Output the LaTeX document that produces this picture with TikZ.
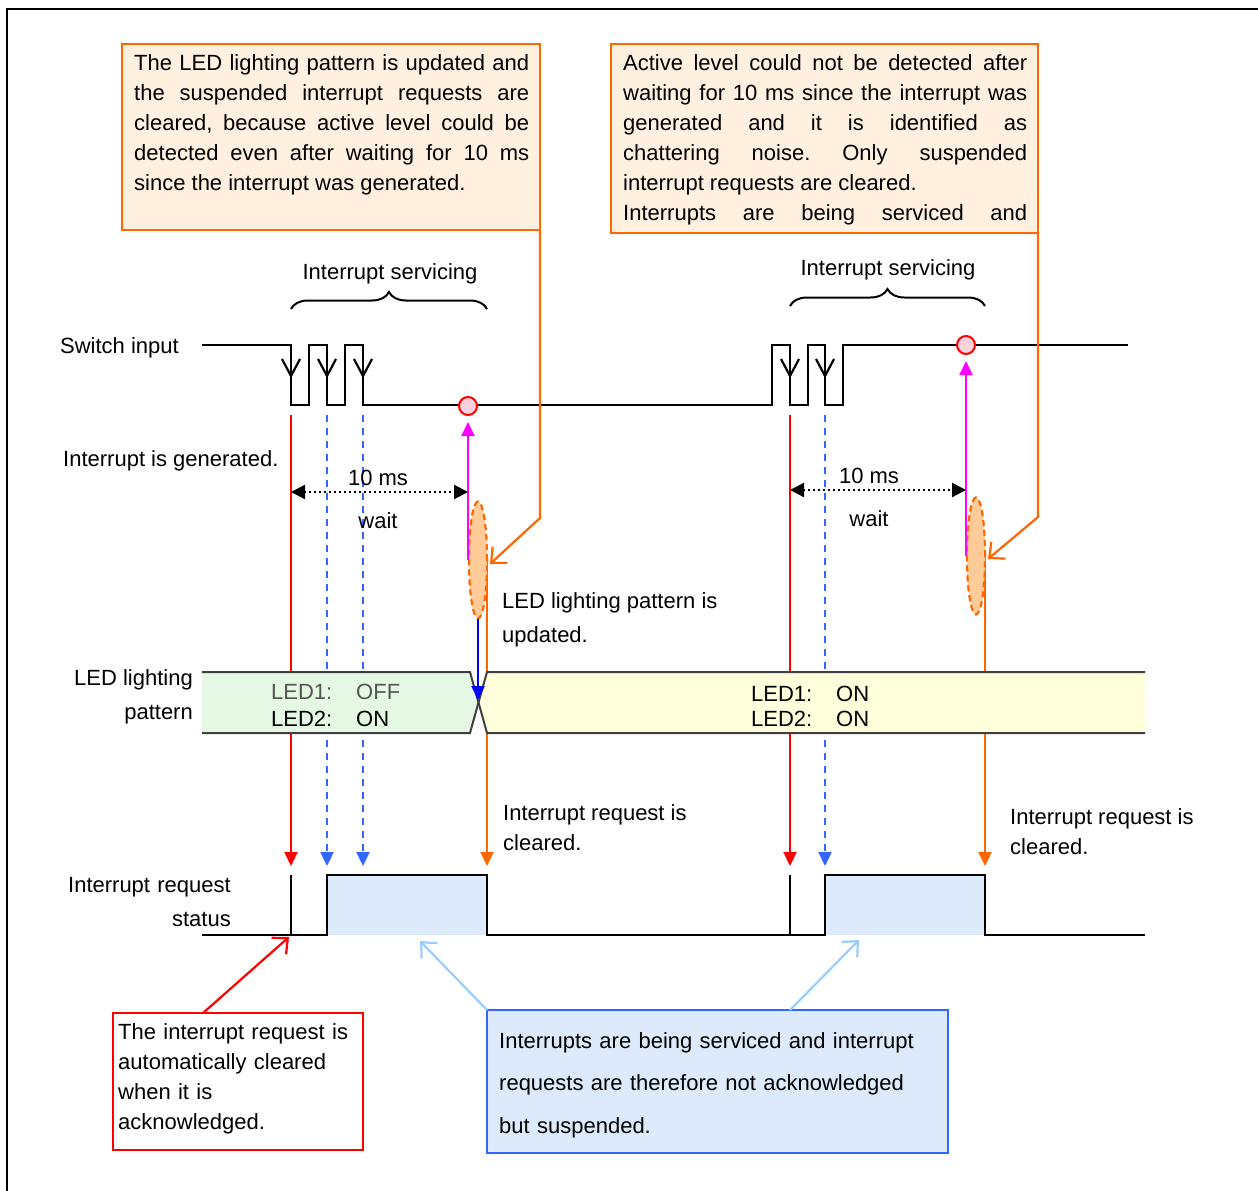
\documentclass[tikz,border=0pt]{standalone}
\usepackage{fontspec}
\setmainfont{Liberation Sans}
\usetikzlibrary{arrows.meta,shapes.geometric,decorations.pathreplacing}

\definecolor{corange}{HTML}{FF6600}
\definecolor{cofill}{HTML}{FFF0E0}
\definecolor{ellfill}{HTML}{FFCC99}
\definecolor{cred}{HTML}{FF0000}
\definecolor{cblue}{HTML}{3366FF}
\definecolor{cdblue}{HTML}{0000FF}
\definecolor{cmag}{HTML}{FF00FF}
\definecolor{ledgreen}{HTML}{E4F8E4}
\definecolor{ledyellow}{HTML}{FFFFDC}
\definecolor{reqfill}{HTML}{DDEAFB}
\definecolor{lblue}{HTML}{99CCFF}
\definecolor{circfill}{HTML}{F9D2DE}
\definecolor{bandline}{HTML}{404040}
\definecolor{dimgray}{HTML}{555555}

\tikzset{
  wave/.style={line width=2.2pt, line join=miter},
  sig/.style={line width=2.2pt, -{Triangle[length=14pt,width=13pt]}},
  leader/.style={line width=2.2pt, -{Straight Barb[length=12pt,width=22pt]}},
  callout/.style={draw=corange, line width=2pt, fill=cofill, inner sep=0pt, outer sep=0pt, anchor=north west},
  txt/.style={inner sep=0pt, anchor=base west},
  para/.style={inner sep=0pt, anchor=base west, align=justify},
  chev/.style={line width=2.2pt},
  dimline/.style={line width=2.2pt, dash pattern=on 2pt off 3pt,
    {Triangle[length=14pt,width=14pt]}-{Triangle[length=14pt,width=14pt]}},
  markring/.style={circle, draw=cred, line width=2pt, fill=circfill, minimum size=18pt, inner sep=0pt},
  blob/.style={ellipse, draw=corange, dash pattern=on 6pt off 4pt, line width=2pt, fill=ellfill,
    minimum width=18pt, minimum height=117pt, inner sep=0pt, outer sep=0pt},
  curly/.style={line width=2pt, decorate, decoration={brace, amplitude=17pt}},
}

\begin{document}
\begin{tikzpicture}[x=1pt, y=-1pt, font=\fontsize{22}{30}\selectfont\frenchspacing]
\useasboundingbox (0,0) rectangle (1258,1191);

% outer frame
\draw[line width=2.5pt] (7,1200) -- (7,9) -- (1270,9);

% ---------- upper annotation boxes ----------
\node[callout, minimum width=418pt, minimum height=186pt] (noteA) at (122,44) {};
\node[para, text width=395pt] at (134,70)
  {The LED lighting pattern is updated and\linebreak
   the suspended interrupt requests are\linebreak
   cleared, because active level could be\linebreak
   detected even after waiting for 10 ms\linebreak
   since the interrupt was generated.};

\node[callout, minimum width=427pt, minimum height=189pt] (noteB) at (611,44) {};
\node[para, text width=404pt] at (623,70)
  {Active level could not be detected after\linebreak
   waiting for 10 ms since the interrupt was\linebreak
   generated and it is identified as\linebreak
   chattering noise. Only suspended\linebreak
   interrupt requests are cleared.\\
   \makebox[\linewidth][s]{Interrupts are being serviced and}};

% ---------- servicing braces ----------
\node[inner sep=0pt, anchor=base] at (390,279) {Interrupt servicing};
\draw[curly] (291,309) -- (487,309);
\node[inner sep=0pt, anchor=base] at (888,275) {Interrupt servicing};
\draw[curly] (790,306) -- (985,306);

% ---------- switch input ----------
\node[inner sep=0pt, anchor=base east] at (179,353) {Switch input};
\draw[wave] (202,345) -- (291,345) -- (291,405) -- (309,405) -- (309,345)
  -- (327,345) -- (327,405) -- (345,405) -- (345,345) -- (363,345) -- (363,405)
  -- (772,405) -- (772,345) -- (790,345) -- (790,405) -- (808,405) -- (808,345)
  -- (825,345) -- (825,405) -- (843,405) -- (843,345) -- (1128,345);
% falling-edge markers
\foreach \ex in {291,327,363,790,825}
  \draw[chev] (\ex-9,359) -- (\ex,376) -- (\ex+9,359);

% switch-level points
\coordinate (sA) at (291,405);
\coordinate (sB) at (327,405);
\coordinate (sC) at (363,405);
\coordinate (sD) at (790,405);
\coordinate (sE) at (825,405);

% request-status points
\coordinate (rA) at (291,875);
\coordinate (rB) at (327,875);
\coordinate (rC) at (363,875);
\coordinate (rD) at (487,875);
\coordinate (rE) at (790,875);
\coordinate (rF) at (825,875);
\coordinate (rG) at (985,875);

\node[txt] at (63,466) {Interrupt is generated.};

% ---------- detection blobs and sampling points ----------
\node[blob] (blobA) at (478,560) {};
\node[blob] (blobB) at (976,556) {};
\node[markring] (ringA) at (468,406) {};
\node[markring] (ringB) at (966,345) {};

% ---------- vertical signal arrows (behind the LED band) ----------
\draw[sig, cred, shorten <=10pt, shorten >=9pt] (sA) -- (rA);
\draw[sig, cblue, dash pattern=on 7pt off 6pt, shorten <=10pt, shorten >=9pt] (sB) -- (rB);
\draw[sig, cblue, dash pattern=on 7pt off 6pt, shorten <=10pt, shorten >=9pt] (sC) -- (rC);
\draw[sig, corange, shorten >=9pt] (blobA.east) -- (rD);
\draw[sig, cred, shorten <=10pt, shorten >=9pt] (sD) -- (rE);
\draw[sig, cblue, dash pattern=on 7pt off 6pt, shorten <=10pt, shorten >=9pt] (sE) -- (rF);
\draw[sig, corange, shorten >=9pt] (blobB.east) -- (rG);

% redraw blobs over the arrow starts
\node[blob] at (478,560) {};
\node[blob] at (976,556) {};

% ---------- interrupt request status ----------
\node[inner sep=0pt, anchor=base east, text width=200pt, align=right] at (231,892)
  {Interrupt request};
\node[inner sep=0pt, anchor=base east] at (231,926) {status};
\fill[reqfill] (327,875) rectangle (487,935);
\fill[reqfill] (825,875) rectangle (985,935);
\draw[wave] (202,935) -- (291,935) -- (291,875) -- (291,935) -- (327,935) -- (327,875)
  -- (487,875) -- (487,935) -- (790,935) -- (790,875) -- (790,935) -- (825,935)
  -- (825,875) -- (985,875) -- (985,935) -- (1145,935);

% ---------- LED lighting pattern band ----------
\node[inner sep=0pt, anchor=base east] at (193,685) {LED lighting};
\node[inner sep=0pt, anchor=base east] at (193,719) {pattern};
\fill[ledgreen] (202,672) -- (470,672) -- (478,702) -- (470,733) -- (202,733) -- cycle;
\fill[ledyellow] (1145,672) -- (487,672) -- (478,702) -- (487,733) -- (1145,733) -- cycle;
\draw[bandline, line width=2pt] (202,672) -- (470,672) -- (487,733) -- (1145,733);
\draw[bandline, line width=2pt] (202,733) -- (470,733) -- (487,672) -- (1145,672);
\node[txt, text=dimgray] at (271,699) {LED1:};
\node[txt, text=dimgray] at (356,699) {OFF};
\node[txt] at (271,726) {LED2:};
\node[txt] at (356,726) {ON};
\node[txt] at (751,701) {LED1:};
\node[txt] at (836,701) {ON};
\node[txt] at (751,726) {LED2:};
\node[txt] at (836,726) {ON};

% pattern update arrow
\coordinate (xA) at (478,702);
\draw[sig, cdblue, shorten >=2pt] (blobA.south) -- (xA);

% level checks after the wait
\draw[sig, cmag, shorten >=6pt] (ringA.south |- blobA.west) -- (ringA.south);
\draw[sig, cmag, shorten >=6pt] (ringB.south |- blobB.west) -- (ringB.south);

% ---------- 10 ms wait ----------
\coordinate (wA1) at (291,492);
\coordinate (wA2) at (468,492);
\coordinate (wB1) at (790,490);
\coordinate (wB2) at (966,490);
\draw[dimline] (wA1) -- (wA2);
\draw[dimline] (wB1) -- (wB2);
\node[inner sep=0pt, anchor=base] at (378,485) {10 ms};
\node[inner sep=0pt, anchor=base] at (378,528) {wait};
\node[inner sep=0pt, anchor=base] at (869,483) {10 ms};
\node[inner sep=0pt, anchor=base] at (869,526) {wait};

\node[txt] at (502,608) {LED lighting pattern is};
\node[txt] at (502,642) {updated.};
\node[txt] at (503,820) {Interrupt request is};
\node[txt] at (503,850) {cleared.};
\node[txt] at (1010,824) {Interrupt request is};
\node[txt] at (1010,854) {cleared.};

% ---------- leaders from the upper boxes ----------
\coordinate (kA) at (540,518);
\coordinate (kB) at (1038,517);
\draw[leader, corange] (noteA.south east) -- (kA) -- ([xshift=3pt,yshift=-4pt]blobA.east);
\draw[leader, corange] (noteB.south east) -- (kB) -- ([xshift=3pt,yshift=-3pt]blobB.east);

% ---------- lower boxes ----------
\node[draw=cred, line width=2pt, fill=white, minimum width=250pt, minimum height=137pt,
  inner sep=0pt, outer sep=0pt, anchor=north west] (noteC) at (113,1013) {};
\node[txt, text width=240pt, align=left] at (118,1039)
  {The interrupt request is\\ automatically cleared\\ when it is\\ acknowledged.};

\node[draw=cblue, line width=2pt, fill=reqfill, minimum width=461pt, minimum height=143pt,
  inner sep=0pt, outer sep=0pt, anchor=north west] (noteD) at (487,1010) {};
\node[txt, text width=440pt, align=left, font=\fontsize{22}{42.5}\selectfont] at (499,1048)
  {Interrupts are being serviced and interrupt\\ requests are therefore not acknowledged\\ but suspended.};

\coordinate (aC) at (289,937);
\coordinate (aD1) at (420,941);
\coordinate (aD2) at (859,940);
\draw[leader, cred] ([xshift=90pt]noteC.north west) -- (aC);
\draw[leader, lblue] (noteD.north west) -- (aD1);
\draw[leader, lblue] ([xshift=303pt]noteD.north west) -- (aD2);
\end{tikzpicture}
\end{document}
